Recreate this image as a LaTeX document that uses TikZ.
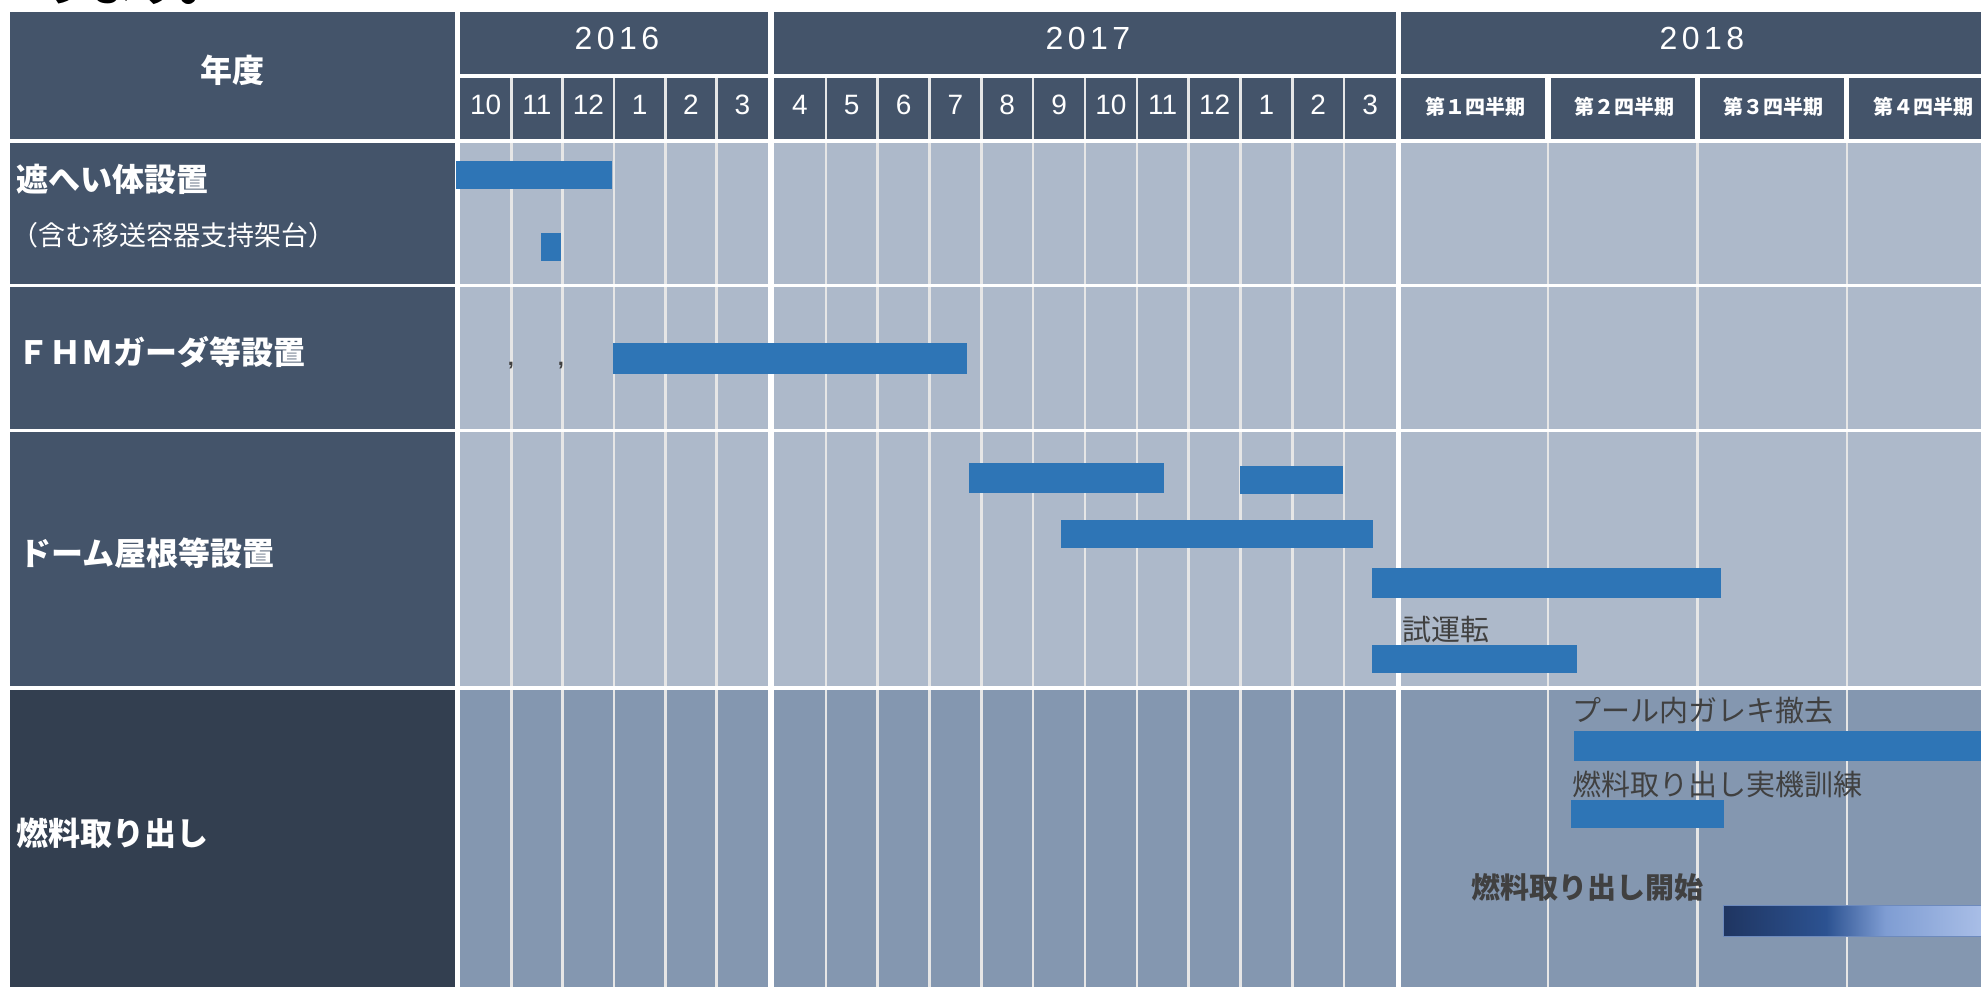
\documentclass[tikz,border=0pt]{standalone}
\usepackage{fontspec}
\setmainfont{Liberation Sans}
\newfontfamily\jp{Noto Sans CJK JP}
\newfontfamily\yr[LetterSpace=14]{Liberation Sans}
\definecolor{hdr}{HTML}{44546A}
\definecolor{hdrdark}{HTML}{333F50}
\definecolor{cell}{HTML}{ADB9CA}
\definecolor{celldark}{HTML}{8497B0}
\definecolor{barc}{HTML}{2E75B6}
\definecolor{txt}{HTML}{404040}
\definecolor{sep}{HTML}{E6E6E6}
\definecolor{ga}{HTML}{1F3561}
\definecolor{gb}{HTML}{2C5291}
\definecolor{gc}{HTML}{7F9DD3}
\definecolor{gd}{HTML}{AEC2E9}
\pgfdeclarehorizontalshading{fuelgrad}{100bp}{color(0bp)=(ga); color(25bp)=(ga); color(44bp)=(gb); color(55bp)=(gc); color(63bp)=(gc!60!gd); color(75bp)=(gd); color(100bp)=(gd)}
\tikzset{
  rowlbl/.style={text=white, font=\jp\bfseries\fontsize{32}{32}\selectfont, anchor=west, inner sep=0pt},
  sublbl/.style={text=white, font=\jp\fontsize{27}{27}\selectfont, anchor=west, inner sep=0pt},
  yearlbl/.style={text=white, font=\yr\fontsize{32}{32}\selectfont, anchor=center, inner sep=0pt},
  monlbl/.style={text=white, font=\fontsize{28}{28}\selectfont, anchor=center, inner sep=0pt},
  qlbl/.style={text=white, font=\jp\bfseries\fontsize{20}{20}\selectfont, anchor=center, inner sep=0pt},
  note/.style={text=txt, font=\jp\fontsize{29}{29}\selectfont, anchor=west, inner sep=0pt},
  notebold/.style={text=txt, font=\jp\bfseries\fontsize{29}{29}\selectfont, anchor=west, inner sep=0pt},
  gantt/.style={fill=barc},
  sepline/.style={draw=sep, line width=2.5pt},
}
\begin{document}
\begin{tikzpicture}[x=1pt,y=-1pt]
\useasboundingbox (0,0) rectangle (1981,987);
\clip (0,0) rectangle (1981,987);
\fill[white] (0,0) rectangle (1981,987);
% cut-off text at top
\node[font=\jp\bfseries\fontsize{48}{48}\selectfont, text=black, anchor=base west, inner sep=0pt] (topcut) at (40,1) {ります。};
% header
\fill[hdr] (10,12) rectangle (455,139);
\node[rowlbl, anchor=center] (nendo) at (232,70) {年度};
\fill[hdr] (460,12) rectangle (768,74);
\fill[hdr] (774,12) rectangle (1396,74);
\fill[hdr] (1401,12) rectangle (1996,74);
\node[yearlbl] (y2016) at (617,38.5) {2016};
\node[yearlbl] (y2017) at (1088,38.5) {2017};
\node[yearlbl] (y2018) at (1702,38.5) {2018};
\fill[hdr] (460,78) rectangle (768,139);
\fill[hdr] (774,78) rectangle (1396,139);
\fill[hdr] (1401,78) rectangle (1545,139);
\fill[hdr] (1551,78) rectangle (1695,139);
\fill[hdr] (1700,78) rectangle (1844,139);
\fill[hdr] (1849,78) rectangle (1996,139);
\foreach \k in {1,...,5} \draw[sepline] ({460+\k*308/6},78) -- ({460+\k*308/6},139);
\foreach \k in {1,...,11} \draw[sepline] ({774+\k*622/12},78) -- ({774+\k*622/12},139);
\foreach \m [count=\k from 0] in {10,11,12,1,2,3}
  \node[monlbl] (ma\k) at ({460+(\k+0.5)*308/6},105) {\m};
\foreach \m [count=\k from 0] in {4,5,6,7,8,9,10,11,12,1,2,3}
  \node[monlbl] (mb\k) at ({774+(\k+0.5)*622/12},105) {\m};
\node[qlbl] (q1) at (1475,106.5) {第１四半期};
\node[qlbl] (q2) at (1624,106.5) {第２四半期};
\node[qlbl] (q3) at (1773,106.5) {第３四半期};
\node[qlbl] (q4) at (1923,106.5) {第４四半期};
% body rows
\foreach \t/\b/\lc/\cc in {143/284/hdr/cell, 287/429/hdr/cell, 432/686/hdr/cell, 690/995/hdrdark/celldark} {
  \fill[\lc] (10,\t) rectangle (455,\b);
  \fill[\cc] (460,\t) rectangle (768,\b);
  \fill[\cc] (774,\t) rectangle (1396,\b);
  \fill[\cc] (1401,\t) rectangle (1996,\b);
  \foreach \k in {1,...,5} \draw[sepline] ({460+\k*308/6},\t) -- ({460+\k*308/6},\b);
  \foreach \k in {1,...,11} \draw[sepline] ({774+\k*622/12},\t) -- ({774+\k*622/12},\b);
  \foreach \xx in {1548,1697.5,1847} \draw[sepline] (\xx,\t) -- (\xx,\b);
}
% row labels
\node[rowlbl] (r1) at (16,179.5) {遮へい体設置};
\node[sublbl] (r1s) at (11,235) {（含む移送容器支持架台）};
\node[rowlbl] (r2) at (17,352) {ＦＨＭガーダ等設置};
\node[rowlbl] (r3) at (19,553) {ドーム屋根等設置};
\node[rowlbl] (r4) at (16,833.5) {燃料取り出し};
% bars
\fill[gantt] (456,161) rectangle (612,189);
\fill[gantt] (541,233) rectangle (561,261);
\fill[gantt] (613,343) rectangle (967,374);
\node[text=txt, font=\bfseries\fontsize{22}{22}\selectfont, inner sep=0pt] (c1) at (511,366) {,};
\node[text=txt, font=\bfseries\fontsize{22}{22}\selectfont, inner sep=0pt] (c2) at (561,366) {,};
\fill[gantt] (969,463) rectangle (1164,493);
\fill[gantt] (1240,466) rectangle (1343,494);
\fill[gantt] (1061,520) rectangle (1373,548);
\fill[gantt] (1372,568) rectangle (1721,598);
\node[note] (shiunten) at (1402,630) {試運転};
\fill[gantt] (1372,645) rectangle (1577,673);
\node[note] (pool) at (1572,711) {プール内ガレキ撤去};
\fill[gantt] (1574,731) rectangle (1994,761);
\node[note] (kunren) at (1572,784.5) {燃料取り出し実機訓練};
\fill[gantt] (1571,800) rectangle (1724,828);
\node[notebold] (kaishi) at (1471,887) {燃料取り出し開始};
\path[shading=fuelgrad, draw=gb!50!gd, line width=1pt] (1723,905) rectangle (1994,936);
\end{tikzpicture}
\end{document}
